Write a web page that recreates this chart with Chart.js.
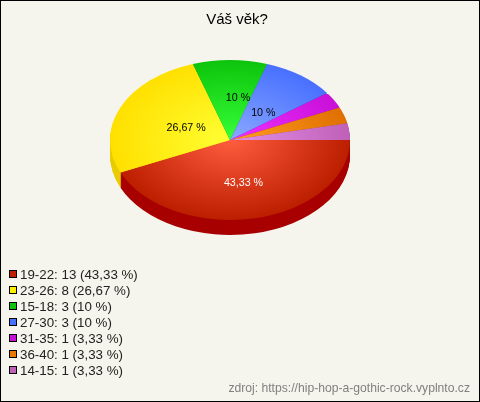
<!DOCTYPE html>
<html>
<head>
<meta charset="utf-8">
<style>
html, body { margin: 0; padding: 0; background: #f5f5ed; }
canvas { display: block; }
</style>
<script src="https://cdn.jsdelivr.net/npm/chart.js@4/dist/chart.umd.min.js"></script>
</head>
<body>
<canvas id="pie" width="480" height="402"></canvas>
<script>
const categories = ['19-22', '23-26', '15-18', '27-30', '31-35', '36-40', '14-15'];
const counts = [13, 8, 3, 3, 1, 1, 1];
const percents = ['43,33 %', '26,67 %', '10 %', '10 %', '3,33 %', '3,33 %', '3,33 %'];

const lightColors = ['#ff5c3e', '#ffff33', '#38ff38', '#8aa8ff', '#f030ff', '#ff9c22', '#e290e8'];
const rimColors = ['#bc1e00', '#ffe000', '#0cc40c', '#4870ff', '#c810d8', '#e07000', '#c060b8'];
const wallColors = ['#a80000', '#e6cc00', '#009000', '#2040c0', '#900090', '#b05000', '#905088'];
const legendColors = ['#c01e00', '#ffee00', '#0cc40c', '#4870ff', '#c810d8', '#e87800', '#c060b8'];

// how far out the labels sit, and which colour, only the big slices have one
const labelDistance = [0.54, 0.40, 0.54, 0.43];
const labelColors = ['#ffffff', '#000000', '#000000', '#000000'];

const squash = 2 / 3;
const depth = 15;

function sliceGradient(context, i) {
    const area = context.chart.chartArea;
    if (!area) return rimColors[i];
    const x = (area.left + area.right) / 2;
    const y = (area.top + area.bottom) / 2;
    const g = context.chart.ctx.createRadialGradient(x, y, 0, x, y, (area.right - area.left) / 2);
    g.addColorStop(0, lightColors[i]);
    g.addColorStop(1, rimColors[i]);
    return g;
}

const tiltPlugin = {
    id: 'tilt',
    beforeDatasetDraw(chart, args) {
        const ctx = chart.ctx;
        const arcs = chart.getDatasetMeta(0).data;
        const cy = arcs[0].y;

        // side wall first, same arcs pushed down
        for (let d = depth; d > 0; d--) {
            ctx.save();
            ctx.translate(0, cy + d);
            ctx.scale(1, squash);
            ctx.translate(0, -cy);
            arcs.forEach((arc, i) => {
                const saved = arc.options;
                arc.options = Object.assign({}, saved, { backgroundColor: wallColors[i], borderWidth: 0 });
                arc.draw(ctx);
                arc.options = saved;
            });
            ctx.restore();
        }

        ctx.save();
        ctx.translate(0, cy);
        ctx.scale(1, squash);
        ctx.translate(0, -cy);
    },
    afterDatasetDraw(chart) {
        chart.ctx.restore();
    },
    afterDraw(chart) {
        const ctx = chart.ctx;
        const arcs = chart.getDatasetMeta(0).data;

        // percent labels on the slices, the two 10 % ones sit a bit right of the middle
        const nudgeX = [0, 0, 8, 3];
        ctx.font = '10.67px "Liberation Sans"';
        ctx.textAlign = 'center';
        ctx.textBaseline = 'middle';
        labelDistance.forEach((dist, i) => {
            const a = (arcs[i].startAngle + arcs[i].endAngle) / 2;
            const x = arcs[i].x + Math.cos(a) * arcs[i].outerRadius * dist;
            const y = arcs[i].y + Math.sin(a) * arcs[i].outerRadius * squash * dist;
            ctx.fillStyle = labelColors[i];
            ctx.fillText(percents[i], x + nudgeX[i], y + 1);
        });

        // legend list
        ctx.font = '13.33px "Liberation Sans"';
        ctx.textAlign = 'left';
        categories.forEach((name, i) => {
            const y = 274 + i * 16;
            ctx.fillStyle = legendColors[i];
            ctx.fillRect(9, y - 4, 8, 8);
            ctx.strokeStyle = '#000000';
            ctx.lineWidth = 1;
            ctx.strokeRect(9.5, y - 3.5, 7, 7);
            ctx.fillStyle = '#222222';
            ctx.fillText(name + ': ' + counts[i] + ' (' + percents[i] + ')', 20, y + 1);
        });

        // source line
        ctx.font = '12.15px "Liberation Sans"';
        ctx.textAlign = 'right';
        ctx.fillStyle = '#808080';
        ctx.fillText('zdroj: https://hip-hop-a-gothic-rock.vyplnto.cz', 470, 389);

        // frame
        ctx.strokeStyle = '#000000';
        ctx.strokeRect(0.5, 0.5, 479, 401);
    }
};

new Chart(document.getElementById('pie'), {
    type: 'pie',
    data: {
        labels: categories,
        datasets: [{
            data: counts,
            backgroundColor: ctx => sliceGradient(ctx, ctx.dataIndex),
            borderWidth: 0
        }]
    },
    options: {
        responsive: false,
        animation: false,
        rotation: 90,
        layout: { padding: { left: 110, right: 130, top: 20, bottom: 142 } },
        plugins: {
            legend: { display: false },
            tooltip: { enabled: false },
            title: {
                display: false
            }
        }
    },
    plugins: [tiltPlugin, {
        id: 'heading',
        afterDraw(chart) {
            const ctx = chart.ctx;
            ctx.font = '15px "Liberation Sans"';
            ctx.textAlign = 'center';
            ctx.textBaseline = 'middle';
            ctx.fillStyle = '#000000';
            ctx.fillText('Váš věk?', 237, 20);
        }
    }]
});
</script>
</body>
</html>
